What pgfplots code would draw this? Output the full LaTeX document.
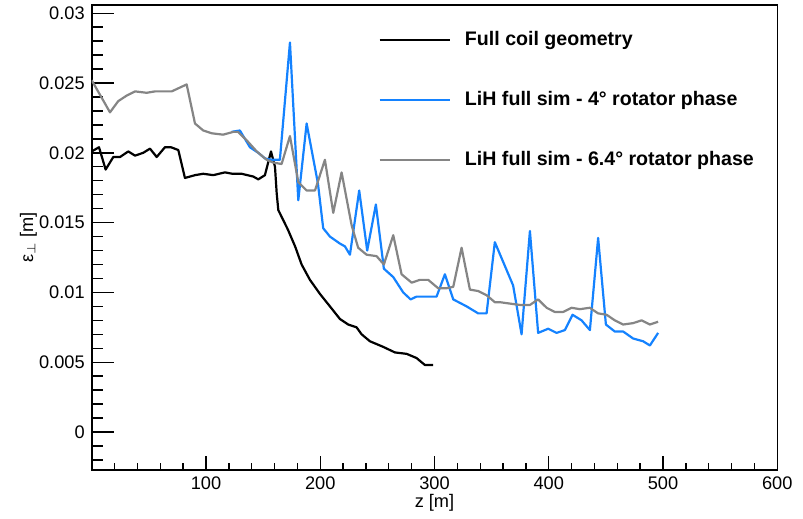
\documentclass[border=0pt]{standalone}
\usepackage{fontspec}
\setmainfont{Liberation Sans}
\usepackage{pgfplots}
\pgfplotsset{compat=1.18}

\definecolor{simblue}{HTML}{1482FF}
\definecolor{simgray}{HTML}{858585}

\begin{document}
\begin{tikzpicture}
\begin{axis}[
  name=ax,
  scale only axis,
  width=342.8bp, height=232.5bp,
  xmin=0, xmax=600, ymin=-0.00272, ymax=0.03059,
  axis line style={line width=0.8bp},
  tick pos=left, tick align=inside,
  tick style={line width=0.7bp, black},
  major tick length=11bp, minor tick length=5.4bp,
  xtick style={/pgfplots/major tick length=7bp, /pgfplots/minor tick length=3.4bp},
  xtick={100,200,300,400,500,600},
  xticklabels={100,200,300,400,500,600},
  minor xtick={20,40,60,80,120,140,160,180,220,240,260,280,320,340,360,380,420,440,460,480,520,540,560,580},
  ytick={0,0.005,0.01,0.015,0.02,0.025,0.03},
  yticklabels={0,0.005,0.01,0.015,0.02,0.025,0.03},
  minor ytick={-0.002,-0.001,0.001,0.002,0.003,0.004,0.006,0.007,0.008,0.009,0.011,0.012,0.013,0.014,0.016,0.017,0.018,0.019,0.021,0.022,0.023,0.024,0.026,0.027,0.028,0.029},
  scaled y ticks=false,
  tick label style={font=\fontsize{9.1bp}{11bp}\selectfont},
  label style={font=\fontsize{9.1bp}{11bp}\selectfont},
  xlabel={z [m]},
  xlabel style={at={(axis description cs:0.5,-0.0817)}, anchor=base},
  ylabel={ε$_{\perp}$ [m]},
  ylabel style={at={(axis description cs:-0.0853,0.5)}, anchor=base},
  legend style={at={(axis description cs:0.4176,0.952)}, anchor=north west,
    draw=none, fill=none, inner sep=0pt, row sep=17.3bp, column sep=5.2bp,
    font=\bfseries\fontsize{9.8bp}{12bp}\selectfont},
  legend cell align=left,
  legend image code/.code={\draw[#1] (0bp,0bp) -- (35bp,0bp);},
  every axis plot/.append style={line width=1.1bp, line join=round},
]
% full coil geometry
\addplot[black] coordinates {
(0,0.0201) (6.4,0.0204) (12.2,0.0188) (18.9,0.0197) (24.8,0.0197) (32,0.0201)
(37.9,0.0198) (45.1,0.0200) (51,0.0203) (56.9,0.0197) (64.1,0.0204) (69.4,0.0204)
(75.8,0.0202) (81.6,0.0182) (90.4,0.0184) (97.6,0.0185) (106.4,0.0184) (116.6,0.0186)
(123,0.0185) (131.2,0.0185) (141.4,0.0183) (145.8,0.0181) (151.6,0.0184) (156.9,0.0201)
(160.4,0.0190) (161.9,0.0171) (163.3,0.0159) (171.7,0.0145) (178,0.0133) (183.7,0.0120)
(191,0.0109) (199.7,0.0099) (208.5,0.0090) (217.2,0.0081) (224.5,0.0077) (231.8,0.0075)
(236.2,0.0070) (243.5,0.0065) (255.1,0.0061) (265.4,0.0057) (275.6,0.0056) (284.3,0.0053)
(291.6,0.0048) (298.9,0.0048)
};
\addlegendentry{Full coil geometry}
% LiH, 4 degree rotator phase
\addplot[simblue] coordinates {
(122.5,0.0215) (129.7,0.0216) (138.5,0.0204) (145.8,0.0200) (151.6,0.0196) (157.5,0.0195)
(164.7,0.0195) (173.5,0.0279) (180.8,0.0166) (188.1,0.0221) (198,0.0178) (202.6,0.0146)
(208.5,0.0140) (217.2,0.0135) (221.6,0.0133) (226,0.0127) (234.1,0.0173) (241.1,0.0130)
(248.7,0.0163) (255.7,0.0117) (263.9,0.0111) (272.6,0.0100) (279.1,0.0095) (284.3,0.0097)
(301.8,0.0097) (309.1,0.0113) (316.4,0.0095) (328.1,0.0090) (338.2,0.0085) (345.6,0.0085)
(352.8,0.0136) (368.8,0.0105) (376.2,0.0070) (383.5,0.0144) (390.7,0.0071) (399.5,0.0074)
(406.8,0.0071) (414.1,0.0073) (420.8,0.0084) (428.7,0.0080) (436,0.0073) (443.2,0.0139)
(450,0.0077) (457.8,0.0072) (465.1,0.0072) (473.8,0.0067) (482.6,0.0065) (488.5,0.0062)
(495.7,0.0071)
};
\addlegendentry{LiH full sim - 4° rotator phase}
% LiH, 6.4 degree rotator phase
\addplot[simgray] coordinates {
(0,0.0252) (16,0.0229) (23.2,0.0237) (30.6,0.0241) (37.9,0.0244) (48.1,0.0243)
(55.4,0.0244) (70,0.0244) (83.1,0.0249) (90.4,0.0221) (97.6,0.0216) (105,0.0214)
(115,0.0213) (123.9,0.0215) (128,0.0215) (135.6,0.0209) (144.4,0.0201) (153.1,0.0195)
(158.9,0.0193) (166.2,0.0192) (173.5,0.0212) (180.8,0.0179) (188.1,0.0173) (195.4,0.0173)
(204.1,0.0195) (211.4,0.0157) (218.7,0.0186) (227.5,0.0148) (233.2,0.0132) (240.6,0.0127)
(249.3,0.0126) (255.7,0.0120) (263.9,0.0141) (271.2,0.0113) (280,0.0107) (287.2,0.0109)
(294.5,0.0109) (303.2,0.0103) (310.6,0.0103) (316.4,0.0104) (323.7,0.0132) (331,0.0102)
(338.2,0.0101) (345.6,0.0098) (352.8,0.0093) (357.2,0.0093) (366,0.0092) (375,0.0091)
(383.5,0.0091) (390.7,0.0095) (398.1,0.0089) (405.3,0.0086) (412.6,0.0086) (419.9,0.0089)
(427.2,0.0088) (435.9,0.0089) (443.2,0.0085) (450.6,0.0084) (457.8,0.0080) (465.1,0.0077)
(473.8,0.0078) (481.2,0.0080) (488.5,0.0077) (495.7,0.0079)
};
\addlegendentry{LiH full sim - 6.4° rotator phase}
\end{axis}
\path[use as bounding box] ([xshift=-45.85bp,yshift=-22.5bp]ax.south west)
  rectangle ([xshift=12.85bp,yshift=2.5bp]ax.north east);
\end{tikzpicture}
\end{document}
